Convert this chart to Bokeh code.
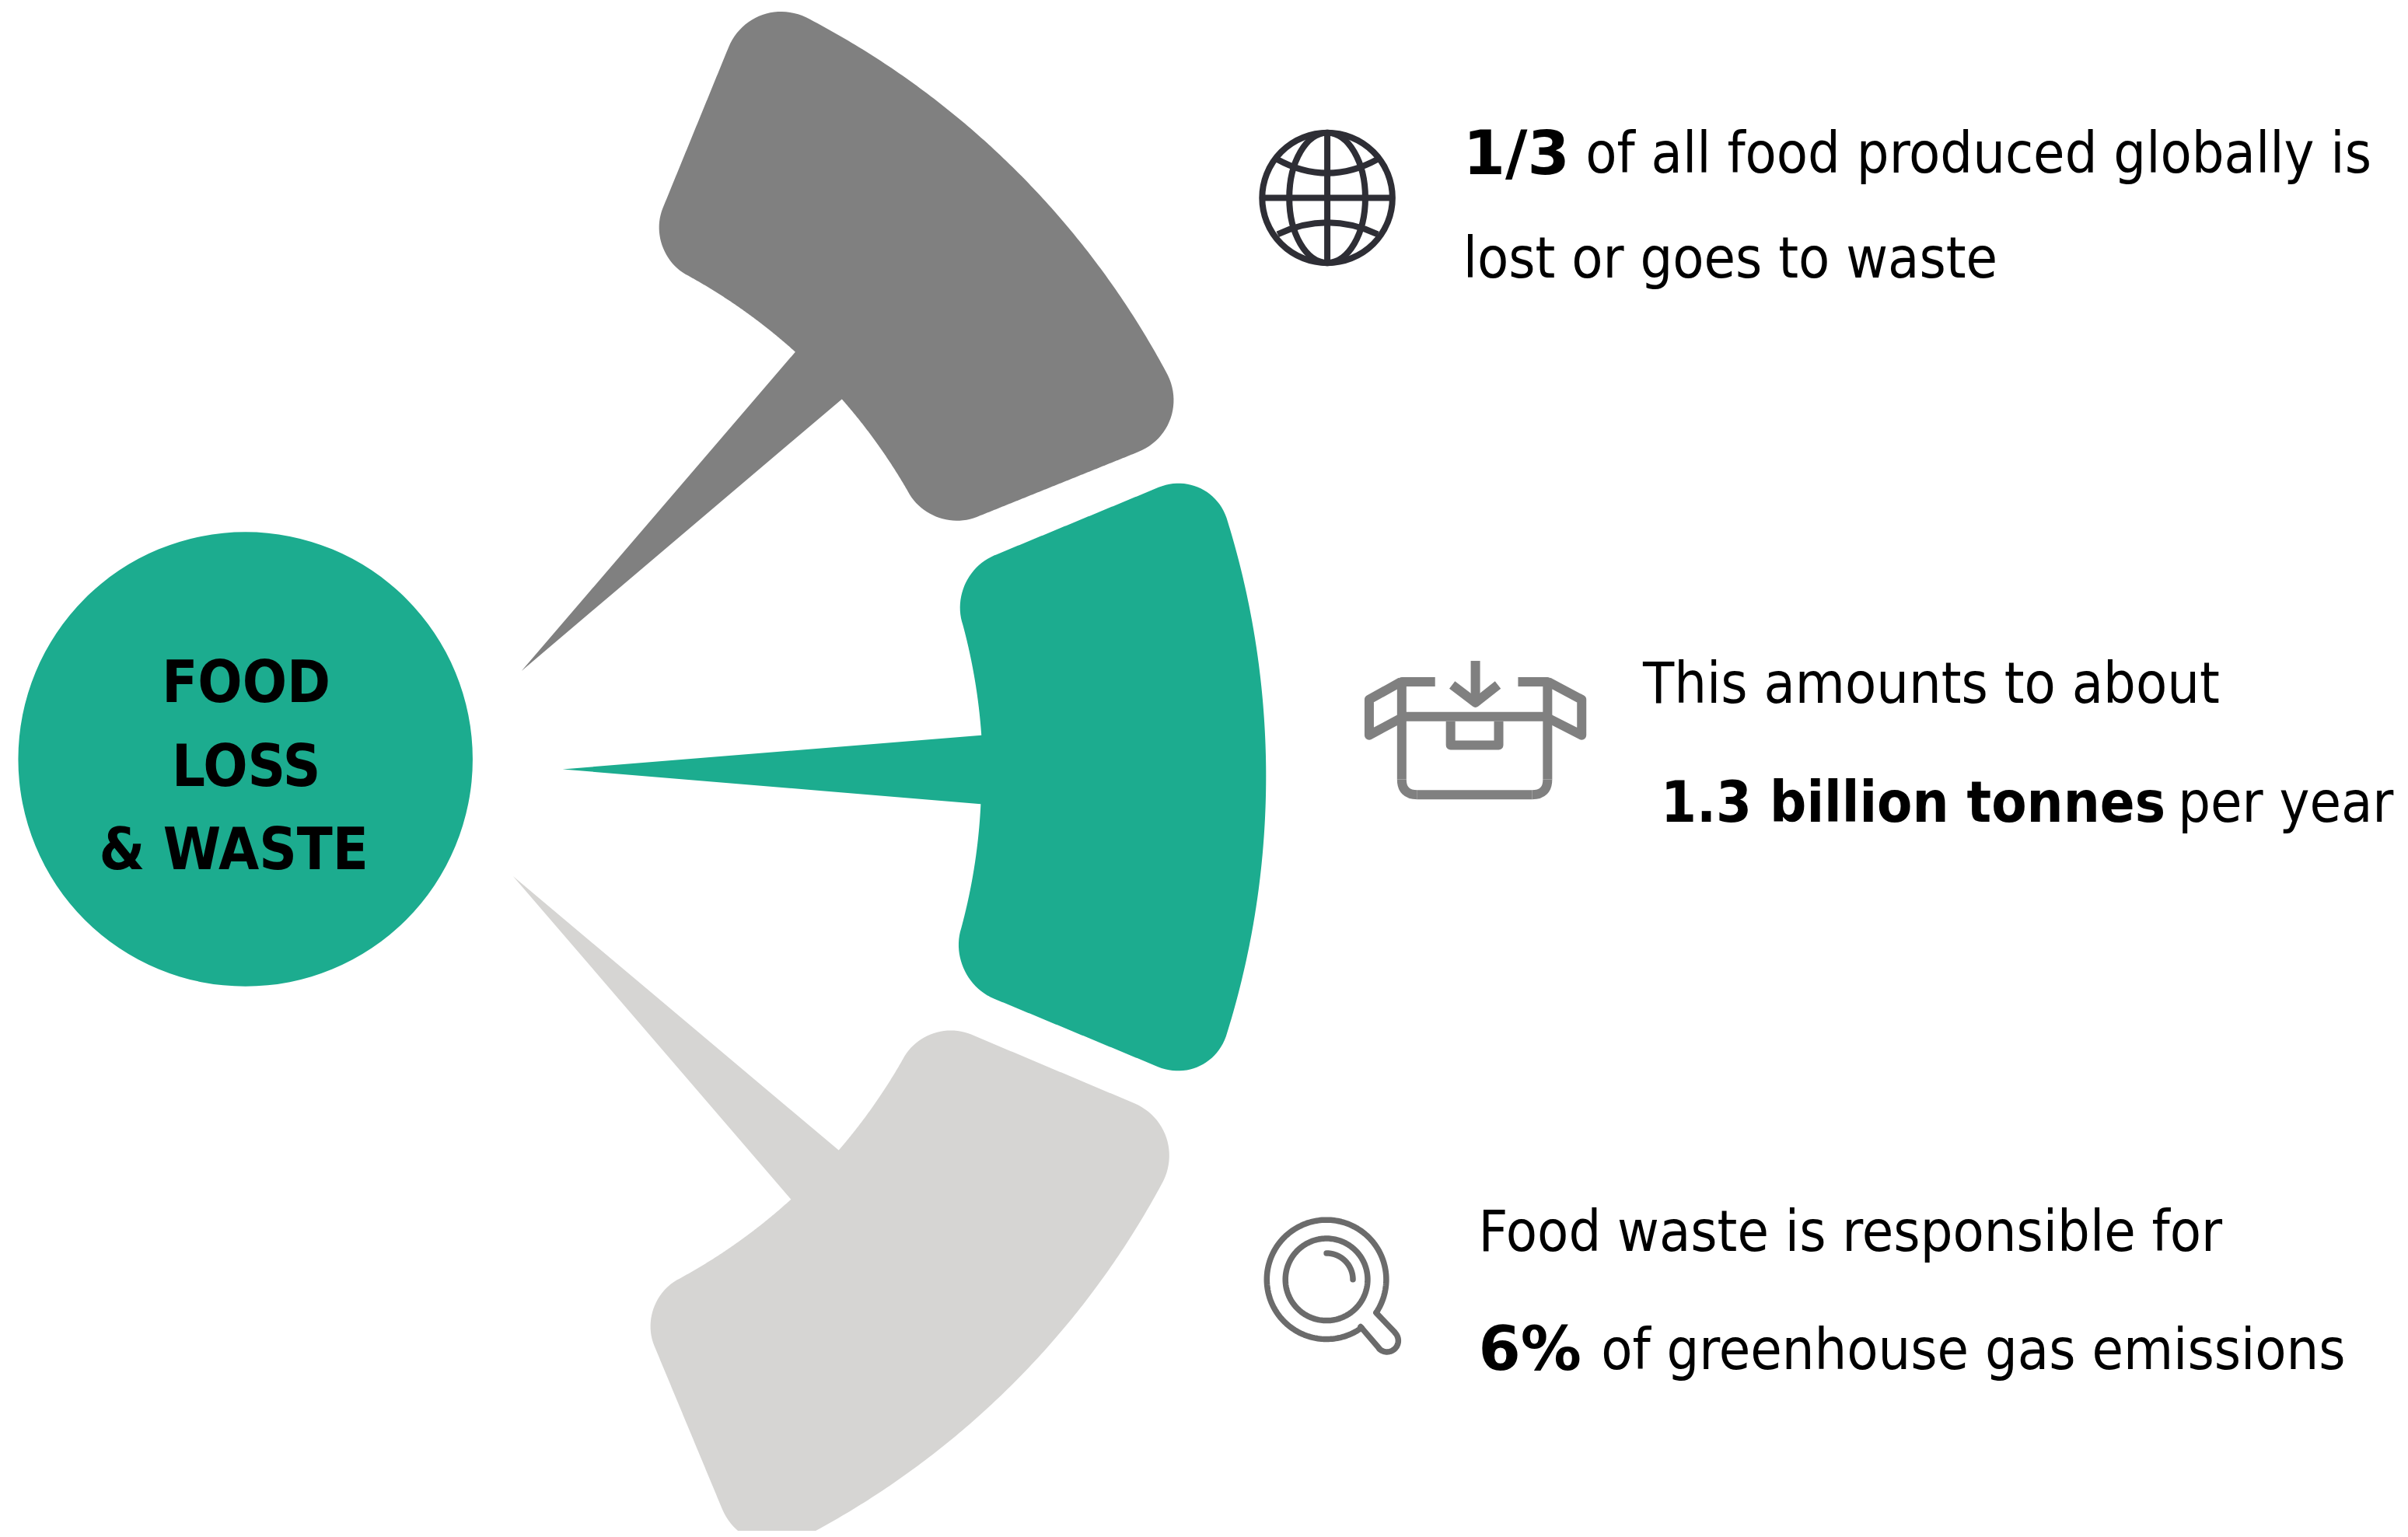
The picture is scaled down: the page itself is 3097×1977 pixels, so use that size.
import numpy as np
from bokeh.plotting import figure
from bokeh.embed import file_html
from bokeh.resources import INLINE
from bokeh.core.properties import value

W, H = 3089, 1969
TEAL, GREY, LIGHT = "#1CAC8F", "#808080", "#D6D5D3"
FONT = "DejaVu Sans Condensed"

# --- blades: arc centre, outer/inner radius, side lines, spike, fillet
grey_blade = dict(c=(528, 1000), R=1103, r=737, first=((937, 57), (848, 275)), second=((1472, 579), (1254, 667)),
                  tip=(669, 865), base_a=(1082, 514), base_b=(1022, 453), d=78, e=64, shift=(3, 1), color=GREY)
teal_blade = dict(c=(510, 1000), R=1119, r=752, first=((1483, 630), (1283, 713)), second=((1477, 1370), (1280, 1288)),
                  tip=(722, 991), base_a=(1262, 1036), base_b=(1262, 947), d=70, e=68, shift=(3, 2), color=TEAL)
light_blade = dict(c=(520, 1000), R=1104, r=734, first=((1461, 1420), (1248, 1330)), second=((921, 1931), (835, 1724)),
                   tip=(656, 1125), base_a=(1014, 1542), base_b=(1076, 1479), d=78, e=64, shift=(5, 6), color=LIGHT)
hub = dict(x=316, y=980, r=293)

center_lines = ["FOOD", "LOSS", "& WASTE"]
center_x = [317, 317, 301]
center_base = [880, 988, 1096]

regular_text = ["of all food produced globally is", "lost or goes to waste", "This amounts to about", "per year",
                "Food waste is responsible for", "of greenhouse gas emissions"]
regular_x = [2044, 1886, 2118, 2808, 1906, 2064]
regular_base = [197, 332, 882, 1035, 1589, 1742]
bold_text = ["1.3 billion tonnes"]
bold_x = [2141]
bold_base = [1035]
num_text = ["1/3", "6%"]
num_x = [1886, 1906]
num_base = [197, 1742]


def cut(p, q, c, R, near):
    p, q, c = np.array(p, float), np.array(q, float), np.array(c, float)
    u = (q - p) / np.linalg.norm(q - p)
    f = p - c
    b = f @ u
    s = np.sqrt(b * b - (f @ f - R * R))
    a, e = p + (-b + s) * u, p + (-b - s) * u
    return a if np.linalg.norm(a - near) < np.linalg.norm(e - near) else e


def arc_pts(a, b, c):
    a0 = np.arctan2(*(a - c)[::-1])
    a1 = np.arctan2(*(b - c)[::-1])
    t = np.linspace(a0, a1, 160)
    R = np.linalg.norm(a - c)
    return np.c_[c[0] + R * np.cos(t), c[1] + R * np.sin(t)]


def trim(seg, start, end):
    s = np.r_[0, np.cumsum(np.hypot(*np.diff(seg, axis=0).T))]
    t = np.linspace(start, s[-1] - end, 120)
    return np.c_[np.interp(t, s, seg[:, 0]), np.interp(t, s, seg[:, 1])]


def corner(p0, k, p3):
    t = np.linspace(0, 1, 24)[:, None]
    c1, c2 = p0 + .55 * (k - p0), p3 + .55 * (k - p3)
    return (1 - t) ** 3 * p0 + 3 * (1 - t) ** 2 * t * c1 + 3 * (1 - t) * t ** 2 * c2 + t ** 3 * p3


def blade(b):
    c = np.array(b["c"], float)
    f0, f1 = b["first"], b["second"]
    A = cut(f0[0], f0[1], c, b["R"], np.array(f0[0], float))
    D = cut(f0[0], f0[1], c, b["r"], np.array(f0[1], float))
    B = cut(f1[0], f1[1], c, b["R"], np.array(f1[0], float))
    C = cut(f1[0], f1[1], c, b["r"], np.array(f1[1], float))
    d, e = b["d"], b["e"]
    ba, bb, tip = [np.array(b[k], float) for k in ("base_a", "base_b", "tip")]
    outer = trim(arc_pts(A, B, c), d, d)
    side2 = trim(np.array([B, C]), d, e)
    in1 = trim(arc_pts(C, ba, c), e, 0)
    in2 = trim(arc_pts(bb, D, c), 0, e)
    side1 = trim(np.array([D, A]), e, d)
    pts = np.vstack([outer, corner(outer[-1], B, side2[0]), side2, corner(side2[-1], C, in1[0]), in1,
                     tip[None, :], in2, corner(in2[-1], D, side1[0]), side1, corner(side1[-1], A, outer[0])])
    return pts + np.array(b["shift"], float)


p = figure(width=W, height=H, x_range=(0, 3097), y_range=(1977, 0), output_backend="svg", toolbar_location=None,
           min_border=0, outline_line_color=None, background_fill_color="white", border_fill_color="white")
p.axis.visible = False
p.grid.visible = False

for b in (grey_blade, teal_blade, light_blade):
    pts = blade(b)
    p.patch(pts[:, 0], pts[:, 1], fill_color=b["color"], line_color=None)
p.circle(x=[hub["x"]], y=[hub["y"]], radius=hub["r"], fill_color=TEAL, line_color=None)

p.text(x=center_x, y=center_base, text=center_lines, text_font=value(FONT), text_font_style="bold",
       text_font_size="75px", text_align="center", text_baseline="alphabetic", text_color="black")
p.text(x=regular_x, y=regular_base, text=regular_text, text_font=value(FONT), text_font_size="73.2px",
       text_baseline="alphabetic", text_color="black")
p.text(x=bold_x, y=bold_base, text=bold_text, text_font=value(FONT), text_font_style="bold", text_font_size="73.5px",
       text_baseline="alphabetic", text_color="black")
p.text(x=num_x, y=num_base, text=num_text, text_font=value("DejaVu Sans"), text_font_style="bold",
       text_font_size="78px", text_baseline="alphabetic", text_color="black")

# --- globe icon
gc, gw = "#2E2E35", 8
gx, gy, gr, grx = 1711, 255, 84, 49
p.ellipse(x=[gx], y=[gy], width=[2 * gr], height=[2 * gr], fill_color=None, line_color=gc, line_width=gw)
p.ellipse(x=[gx], y=[gy], width=[2 * grx], height=[2 * gr], fill_color=None, line_color=gc, line_width=gw)
p.segment(x0=[gx, gx - gr], y0=[gy - gr, gy], x1=[gx, gx + gr], y1=[gy + gr, gy], line_color=gc, line_width=gw)
p.quadratic(x0=[gx - 65, gx - 64], y0=[205, 302], x1=[gx + 65, gx + 65], y1=[205, 302], cx=[gx, gx], cy=[241, 272],
            line_color=gc, line_width=gw)

# --- box icon (offset 4, 2 from the traced outline)
bc, bw = "#808080", 12
bx, by = 4, 2
box_paths = [
    ([1846, 1803, 1803], [878, 878, 1004]),
    ([1953, 1991, 1991], [878, 878, 1004]),
    ([1803, 1991], [923, 923]),
    ([1802, 1761, 1761, 1802], [878, 901, 947, 925]),
    ([1992, 2035, 2035, 1992], [878, 901, 947, 925]),
    ([1866, 1866, 1928, 1928], [929, 960, 960, 929]),
    ([1898, 1898], [851, 905]),
    ([1868, 1898, 1927], [882, 905, 882]),
]
for xs, ys in box_paths:
    p.line([v + bx for v in xs], [v + by for v in ys], line_color=bc, line_width=bw, line_join="round")
p.quadratic(x0=[1803 + bx, 1823 + bx, 1971 + bx], y0=[1004 + by, 1024 + by, 1024 + by],
            x1=[1823 + bx, 1971 + bx, 1991 + bx], y1=[1024 + by, 1024 + by, 1004 + by],
            cx=[1803 + bx, 1897 + bx, 1991 + bx], cy=[1024 + by, 1024 + by, 1024 + by], line_color=bc, line_width=bw)

# --- magnifier icon
mc, mw = "#6B6B6B", 7.5
mx, my = 1710, 1652
def ring(r, a0, a1):
    t = np.radians(np.linspace(a0, a1, 200))
    return mx + r * np.cos(t), my + r * np.sin(t)
for r, a0, a1 in [(77, 54, 393.5), (53, 0, 360), (34, -90, 0)]:
    xs, ys = ring(r, a0, a1)
    p.line(xs, ys, line_color=mc, line_width=mw, line_cap="round")
t = np.radians(np.linspace(-45, 135, 40))
hx = np.r_[mx + 64, mx + 88, mx + 78 + 14.5 * np.cos(t), mx + 68, mx + 44]
hy = np.r_[my + 43, my + 68, my + 79 + 14.5 * np.sin(t), my + 89, my + 61]
p.line(hx, hy, line_color=mc, line_width=mw, line_join="round", line_cap="round")

open("out.html", "w").write(file_html(p, INLINE))
